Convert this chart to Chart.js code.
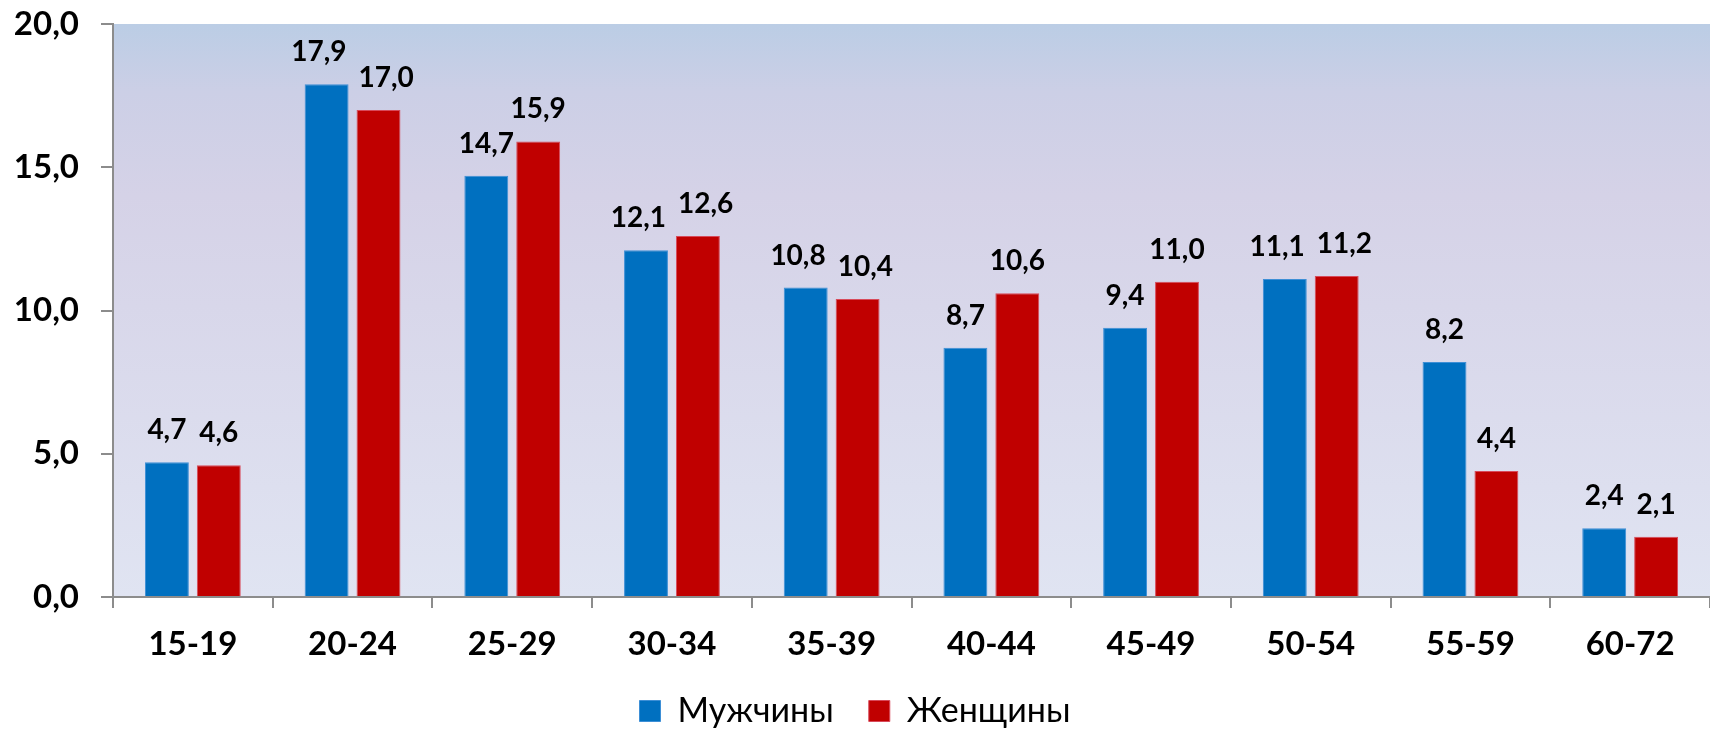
<!DOCTYPE html>
<html>
<head>
<meta charset="utf-8">
<script src="https://cdn.jsdelivr.net/npm/chart.js@4"></script>
<style>
	html, body { margin: 0; padding: 0; background: #fff; }
	#wrap { width: 1710px; height: 729px; }
</style>
</head>
<body>
<div id="wrap"><canvas id="chart" width="1710" height="729"></canvas></div>
<script>
const ageGroups = ['15-19', '20-24', '25-29', '30-34', '35-39', '40-44', '45-49', '50-54', '55-59', '60-72'];
const menValues = [4.7, 17.9, 14.7, 12.1, 10.8, 8.7, 9.4, 11.1, 8.2, 2.4];
const womenValues = [4.6, 17.0, 15.9, 12.6, 10.4, 10.6, 11.0, 11.2, 4.4, 2.1];
const seriesNames = ['Мужчины', 'Женщины'];
const yTicks = [0, 5, 10, 15, 20];

const FONT = 'Lato, "Open Sans", sans-serif';
const fmt = v => v.toFixed(1).replace('.', ',');

// gradient behind the plot area
const plotBackground = {
	id: 'plotBackground',
	beforeDraw (chart) {
		const { ctx, chartArea: a } = chart;
		const g = ctx.createLinearGradient(0, a.top, 0, a.bottom);
		g.addColorStop(0, '#bbcde5');
		g.addColorStop(0.12, '#cccfe6');
		g.addColorStop(0.3, '#d5d2e7');
		g.addColorStop(1, '#e0e4f2');
		ctx.save();
		ctx.fillStyle = g;
		ctx.fillRect(a.left, a.top, a.right - a.left, a.bottom - a.top);
		ctx.restore();
	}
};

// value labels above each bar, pushed apart when a pair would collide
const valueLabels = {
	id: 'valueLabels',
	afterDatasetsDraw (chart) {
		const ctx = chart.ctx;
		ctx.save();
		ctx.font = 'bold 28px ' + FONT;
		ctx.fillStyle = '#000';
		ctx.textAlign = 'center';
		ctx.textBaseline = 'bottom';
		const m0 = chart.getDatasetMeta(0).data;
		const m1 = chart.getDatasetMeta(1).data;
		chart.data.labels.forEach((_, j) => {
			const t0 = fmt(chart.data.datasets[0].data[j]);
			const t1 = fmt(chart.data.datasets[1].data[j]);
			let x0 = m0[j].x, x1 = m1[j].x;
			const y0 = m0[j].y - 18, y1 = m1[j].y - 18;
			if (Math.abs(y0 - y1) < 28) {
				const need = ctx.measureText(t0).width / 2 + ctx.measureText(t1).width / 2 + 12;
				const diff = need - (x1 - x0);
				if (diff > 0) {
					x0 -= diff / 2;
					x1 += diff / 2;
				}
			}
			ctx.fillText(t0, x0, y0);
			ctx.fillText(t1, x1, y1);
		});
		ctx.restore();
	}
};

new Chart(document.getElementById('chart'), {
	type: 'bar',
	data: {
		labels: ageGroups,
		datasets: [
			{ label: seriesNames[0], data: menValues, backgroundColor: '#0070c0', borderColor: '#3d8fd6', borderWidth: 1 },
			{ label: seriesNames[1], data: womenValues, backgroundColor: '#c00000', borderColor: '#d84a5a', borderWidth: 1 }
		]
	},
	options: {
		responsive: false,
		animation: false,
		categoryPercentage: 0.65,
		barPercentage: 0.846,
		layout: { padding: { top: 24, right: 0, left: 0, bottom: -9 } },
		scales: {
			x: {
				grid: { display: true, drawOnChartArea: false, offset: true, color: '#8c8c8c', lineWidth: 2, tickLength: 11 },
				border: { color: '#8c8c8c', width: 2 },
				ticks: { color: '#000', font: { family: FONT, size: 33, weight: 'bold' }, padding: 17 },
				afterFit: s => { s.height = 62; }
			},
			y: {
				min: 0,
				max: 20,
				afterBuildTicks: s => { s.ticks = yTicks.map(v => ({ value: v })); },
				grid: { display: true, drawOnChartArea: false, color: '#8c8c8c', lineWidth: 2, tickLength: 12 },
				border: { color: '#8c8c8c', width: 2 },
				ticks: { color: '#000', font: { family: FONT, size: 33, weight: 'bold' }, padding: 22, callback: v => fmt(v) },
				afterFit: s => { s.width = 113; s.paddingTop = 0; s.paddingBottom = 0; }
			}
		},
		plugins: {
			legend: {
				position: 'bottom',
				labels: {
					color: '#000',
					font: { family: FONT, size: 34 },
					boxWidth: 21,
					boxHeight: 21,
					padding: 35
				}
			},
			tooltip: { enabled: false }
		}
	},
	plugins: [plotBackground, valueLabels]
});
</script>
</body>
</html>
